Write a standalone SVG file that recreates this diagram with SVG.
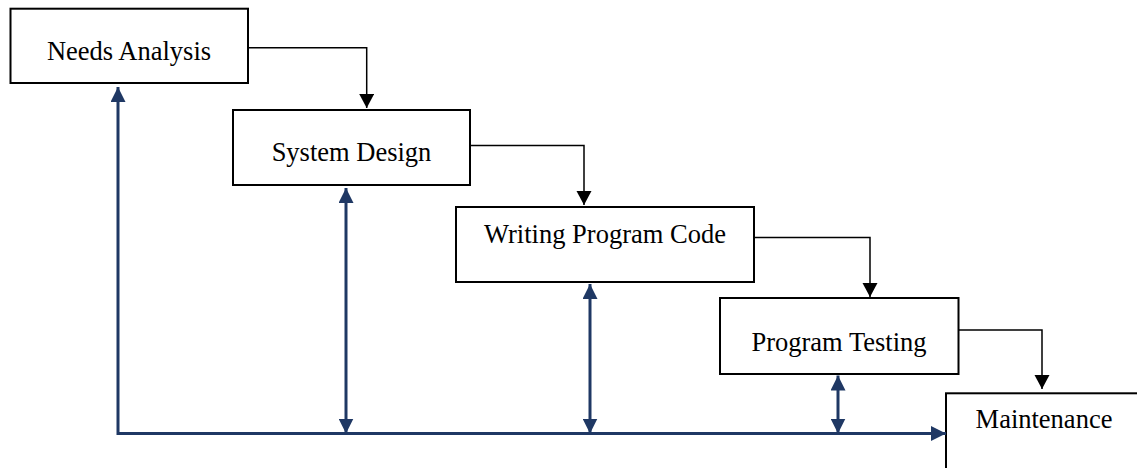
<svg xmlns="http://www.w3.org/2000/svg" width="1137" height="468" viewBox="0 0 1137 468">
  <style>
    .box { fill: #ffffff; stroke: #000000; stroke-width: 2; }
    .label { font-family: "Liberation Serif", "Times New Roman", serif; font-size: 26.5px; fill: #000000; text-anchor: middle; }
    .flow { fill: none; stroke: #000000; stroke-width: 1.5; }
    .feedback { fill: none; stroke: #1F3864; stroke-width: 3; }
  </style>
  <defs>
    <marker id="arrow-black" markerUnits="userSpaceOnUse" viewBox="0 0 14.5 15.5" refX="14.5" refY="7.75" markerWidth="14.5" markerHeight="15.5" orient="auto">
      <path d="M0,0 L14.5,7.75 L0,15.5 z" fill="#000000"/>
    </marker>
    <marker id="arrow-blue" markerUnits="userSpaceOnUse" viewBox="0 0 15 15" refX="15" refY="7.5" markerWidth="15" markerHeight="15" orient="auto-start-reverse">
      <path d="M0,0 L15,7.5 L0,15 z" fill="#1F3864"/>
    </marker>
  </defs>

  <!-- stage boxes -->
  <g id="needs-analysis">
    <rect class="box" x="10.5" y="8.7" width="237.5" height="74.3"/>
    <text class="label" x="129" y="59.5">Needs Analysis</text>
  </g>
  <g id="system-design">
    <rect class="box" x="233" y="110" width="237" height="75"/>
    <text class="label" x="351.5" y="160.5">System Design</text>
  </g>
  <g id="writing-program-code">
    <rect class="box" x="456" y="207" width="298" height="75"/>
    <text class="label" x="605" y="242.5">Writing Program Code</text>
  </g>
  <g id="program-testing">
    <rect class="box" x="720" y="298" width="238.5" height="76"/>
    <text class="label" x="839" y="350.5">Program Testing</text>
  </g>
  <g id="maintenance">
    <rect class="box" x="946" y="393.3" width="260" height="150"/>
    <text class="label" x="1044" y="428">Maintenance</text>
  </g>

  <!-- connectors -->
  <g id="connectors">
    <!-- forward flow between stages -->
    <path class="flow" d="M248,47.7 H366.7 V108" marker-end="url(#arrow-black)"/>
    <path class="flow" d="M470,145.5 H584 V205" marker-end="url(#arrow-black)"/>
    <path class="flow" d="M754,237.5 H870 V297" marker-end="url(#arrow-black)"/>
    <path class="flow" d="M958.5,330 H1042 V389" marker-end="url(#arrow-black)"/>

    <!-- feedback loop -->
    <path class="feedback" d="M118,87 V433.5 H946" marker-start="url(#arrow-blue)" marker-end="url(#arrow-blue)"/>
    <path class="feedback" d="M346,188 V433.5" marker-start="url(#arrow-blue)" marker-end="url(#arrow-blue)"/>
    <path class="feedback" d="M590,284 V433.5" marker-start="url(#arrow-blue)" marker-end="url(#arrow-blue)"/>
    <path class="feedback" d="M838,375.5 V433.5" marker-start="url(#arrow-blue)" marker-end="url(#arrow-blue)"/>
  </g>
</svg>
